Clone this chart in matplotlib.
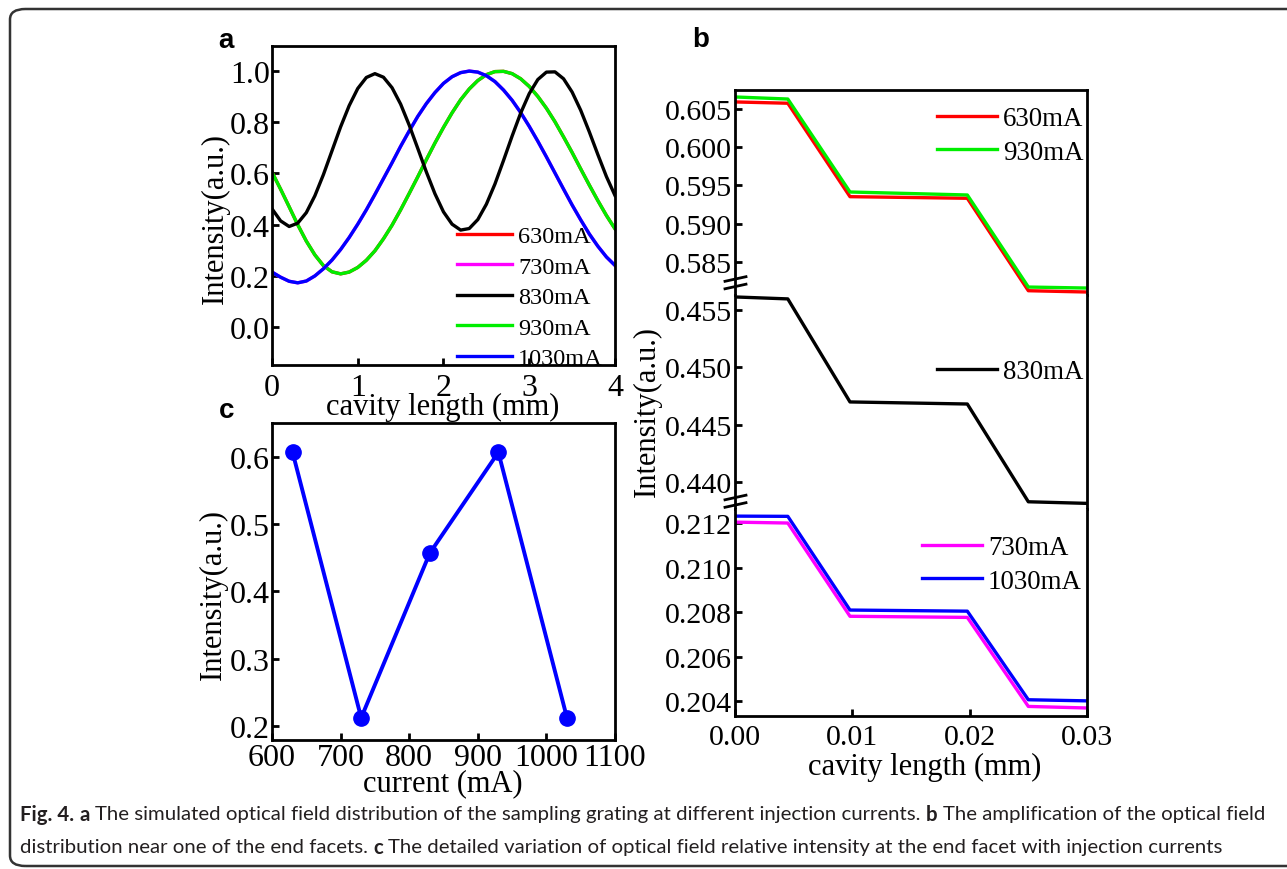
import matplotlib
matplotlib.use('Agg')
import matplotlib.pyplot as plt
from matplotlib import font_manager
from matplotlib.patches import FancyBboxPatch
from matplotlib.lines import Line2D
from matplotlib.ticker import FormatStrFormatter, MultipleLocator

# ---------------- data ----------------
# panel a : field distribution along the cavity
cavity_a = [0.0, 0.1, 0.2, 0.3, 0.4, 0.5, 0.6, 0.7, 0.8, 0.9,
            1.0, 1.1, 1.2, 1.3, 1.4, 1.5, 1.6, 1.7, 1.8, 1.9,
            2.0, 2.1, 2.2, 2.3, 2.4, 2.5, 2.6, 2.7, 2.8, 2.9,
            3.0, 3.1, 3.2, 3.3, 3.4, 3.5, 3.6, 3.7, 3.8, 3.9, 4.0]
a_830 = [0.462, 0.415, 0.393, 0.406, 0.447, 0.513, 0.596, 0.689, 0.782, 0.865,
         0.932, 0.975, 0.990, 0.976, 0.935, 0.871, 0.789, 0.698, 0.606, 0.521,
         0.450, 0.402, 0.379, 0.385, 0.420, 0.480, 0.559, 0.651, 0.746, 0.836,
         0.912, 0.967, 0.996, 0.997, 0.970, 0.918, 0.847, 0.763, 0.674, 0.588, 0.514]
a_930 = [0.605, 0.539, 0.470, 0.400, 0.336, 0.282, 0.240, 0.216, 0.208, 0.215,
         0.233, 0.261, 0.298, 0.345, 0.398, 0.458, 0.522, 0.587, 0.654, 0.719,
         0.780, 0.837, 0.888, 0.930, 0.963, 0.986, 0.998, 0.999, 0.990, 0.970,
         0.940, 0.901, 0.855, 0.802, 0.743, 0.682, 0.618, 0.555, 0.494, 0.436, 0.384]
a_630 = list(a_930)   # coincides with 930 mA (hidden underneath)
a_1030 = [0.215, 0.195, 0.179, 0.173, 0.180, 0.200, 0.228, 0.262, 0.303, 0.350,
          0.402, 0.458, 0.518, 0.580, 0.642, 0.706, 0.766, 0.823, 0.873, 0.916,
          0.952, 0.978, 0.994, 1.000, 0.996, 0.982, 0.959, 0.926, 0.886, 0.838,
          0.784, 0.726, 0.665, 0.602, 0.539, 0.477, 0.419, 0.364, 0.316, 0.274, 0.241]
a_730 = list(a_1030)  # coincides with 1030 mA (hidden underneath)

# panel b : zoom near the end facet
cavity_b = [0.0, 0.0045, 0.0098, 0.0198, 0.025, 0.03]
b_630 = [0.60592, 0.60575, 0.59354, 0.59333, 0.58125, 0.58108]
b_930 = [0.60657, 0.60630, 0.59415, 0.59376, 0.58173, 0.58160]
b_830 = [0.45613, 0.45596, 0.44698, 0.44680, 0.43828, 0.43814]
b_730 = [0.21204, 0.21200, 0.20781, 0.20776, 0.20376, 0.20369]
b_1030 = [0.21231, 0.21230, 0.20809, 0.20804, 0.20406, 0.20401]

# panel c : end-facet intensity vs current
current = [630, 730, 830, 930, 1030]
facet_intensity = [0.607, 0.212, 0.457, 0.607, 0.212]

labels = ['630mA', '730mA', '830mA', '930mA', '1030mA']
colors = {'630mA': '#ff0000', '730mA': '#ff00ff', '830mA': '#000000',
          '930mA': '#00ee00', '1030mA': '#0000ff'}

# ---------------- figure ----------------
W, H = 1287, 870
fig = plt.figure(figsize=(W / 100, H / 100), dpi=100)
fig.patch.set_facecolor('white')

SERIF = 'Liberation Serif'
plt.rcParams['font.family'] = [SERIF, 'DejaVu Serif']


def fx(px):
    return px / W


def fy(py):
    return 1 - py / H


def new_axes(l, t, r, b):
    return fig.add_axes([fx(l), fy(b), fx(r) - fx(l), fy(t) - fy(b)])


def style(ax, pad_x=8, pad_y=1.5, fs=23):
    for s in ax.spines.values():
        s.set_linewidth(2.0)
    ax.tick_params(direction='in', length=5, width=2.0, labelsize=fs,
                   top=False, right=False)
    ax.tick_params(axis='x', pad=pad_x)
    ax.tick_params(axis='y', pad=pad_y)


LW = 2.4
LABEL_FS = 22

# ---- panel a ----
axa = new_axes(272, 47, 615, 366)
handles = {}
for lab, data in [('630mA', a_630), ('930mA', a_930), ('730mA', a_730),
                  ('1030mA', a_1030), ('830mA', a_830)]:
    ln, = axa.plot(cavity_a, data, color=colors[lab], lw=LW)
    handles[lab] = ln
axa.set_xlim(0, 4)
axa.set_ylim(-0.148, 1.098)
axa.xaxis.set_major_locator(MultipleLocator(1))
axa.yaxis.set_major_locator(MultipleLocator(0.2))
axa.yaxis.set_major_formatter(FormatStrFormatter('%.1f'))
style(axa, pad_x=6)
axa.legend([handles[l] for l in labels], labels, loc='upper left',
           bbox_to_anchor=(fx(457), fy(226)), bbox_transform=fig.transFigure,
           frameon=False, prop={'family': SERIF, 'size': 17.5},
           handlelength=2.26, handletextpad=0.25, borderpad=0,
           borderaxespad=0, labelspacing=0.35)
fig.text(fx(443), fy(407), 'cavity length (mm)', ha='center', va='center',
         fontsize=LABEL_FS)
fig.text(fx(215), fy(219), 'Intensity(a.u.)', ha='center', va='center',
         rotation=90, fontsize=LABEL_FS)

# ---- panel c ----
axc = new_axes(272, 424, 615, 741)
axc.plot(current, facet_intensity, color='#0000ff', lw=2.8, marker='o',
         markersize=11, markerfacecolor='#0000ff', markeredgecolor='#0000ff')
axc.set_xlim(600, 1100)
axc.set_ylim(0.179, 0.6506)
axc.xaxis.set_major_locator(MultipleLocator(100))
axc.yaxis.set_major_locator(MultipleLocator(0.1))
axc.yaxis.set_major_formatter(FormatStrFormatter('%.1f'))
style(axc, pad_x=2)
fig.text(fx(443), fy(784), 'current (mA)', ha='center', va='center',
         fontsize=LABEL_FS)
fig.text(fx(213), fy(594), 'Intensity(a.u.)', ha='center', va='center',
         rotation=90, fontsize=LABEL_FS)

# ---- panel b (broken axis) ----
bl, br = 735, 1087
axb1 = new_axes(bl, 91, br, 296)
axb2 = new_axes(bl, 296, br, 510)
axb3 = new_axes(bl, 510, br, 717)

hb = {}
for ax, series in [(axb1, [('630mA', b_630), ('930mA', b_930)]),
                   (axb2, [('830mA', b_830)]),
                   (axb3, [('730mA', b_730), ('1030mA', b_1030)])]:
    for lab, data in series:
        ln, = ax.plot(cavity_b, data, color=colors[lab], lw=LW)
        hb[lab] = ln
    ax.set_xlim(0, 0.03)

axb1.set_ylim(0.58069, 0.60748)
axb2.set_ylim(0.43765, 0.4563)
axb3.set_ylim(0.20333, 0.21263)
axb1.yaxis.set_major_locator(MultipleLocator(0.005))
axb2.yaxis.set_major_locator(MultipleLocator(0.005))
axb3.yaxis.set_major_locator(MultipleLocator(0.002))
for ax in (axb1, axb2, axb3):
    ax.yaxis.set_major_formatter(FormatStrFormatter('%.3f'))
    style(ax, pad_x=6, pad_y=2, fs=21.5)
axb3.xaxis.set_major_locator(MultipleLocator(0.01))
axb3.xaxis.set_major_formatter(FormatStrFormatter('%.2f'))
for ax in (axb1, axb2):
    ax.tick_params(axis='x', bottom=False, labelbottom=False)
    ax.spines['bottom'].set_visible(False)
for ax in (axb2, axb3):
    ax.spines['top'].set_visible(False)

legp = dict(loc='upper left', bbox_transform=fig.transFigure, frameon=False,
            prop={'family': SERIF, 'size': 19.4}, handlelength=2.23,
            handletextpad=0.22, borderpad=0, borderaxespad=0, labelspacing=0.33)
axb1.legend([hb['630mA'], hb['930mA']], ['630mA', '930mA'],
            bbox_to_anchor=(fx(937), fy(107)), **legp)
axb2.legend([hb['830mA']], ['830mA'], bbox_to_anchor=(fx(937), fy(360)), **legp)
axb3.legend([hb['730mA'], hb['1030mA']], ['730mA', '1030mA'],
            bbox_to_anchor=(fx(922), fy(536)), **legp)

fig.text(fx(925), fy(767), 'cavity length (mm)', ha='center', va='center',
         fontsize=LABEL_FS)
fig.text(fx(647), fy(412), 'Intensity(a.u.)', ha='center', va='center',
         rotation=90, fontsize=LABEL_FS)

# break marks on the left spine
for yc in (280, 287.5, 498.5, 506):
    fig.add_artist(Line2D([fx(725), fx(746)], [fy(yc + 2.3), fy(yc - 2.3)],
                          color='black', lw=2.0, transform=fig.transFigure))

# panel letters
for txt, x, y in [('a', 226, 41), ('b', 701, 40), ('c', 227, 411)]:
    fig.text(fx(x), fy(y), txt, ha='center', va='center', fontsize=20,
             fontweight='bold', family='Liberation Sans')

# ---------------- caption ----------------
available = {f.name for f in font_manager.fontManager.ttflist}
cap_font = 'Liberation Sans Narrow' if 'Liberation Sans Narrow' in available else 'Lato'
cap_color = '#231f20'
line1 = [('Fig. 4.', 'bold'), ('a', 'bold'),
         ('The simulated optical field distribution of the sampling grating at different injection currents.', 'normal'),
         ('b', 'bold'), ('The amplification of the optical field', 'normal')]
line2 = [('distribution near one of the end facets.', 'normal'), ('c', 'bold'),
         ('The detailed variation of optical field relative intensity at the end facet with injection currents', 'normal')]

renderer = fig.canvas.get_renderer()


def width_of(s, size, weight):
    t = fig.text(0, 0, s, fontsize=size, family=cap_font, fontweight=weight)
    w = t.get_window_extent(renderer).width
    t.remove()
    return w


target = 1247.0
size = 14.0
total = sum(width_of(s, size, w) for s, w in line1) + 4 * (width_of('x x', size, 'normal') - width_of('xx', size, 'normal'))
size = min(size * target / total, 16.0)
space = width_of('x x', size, 'normal') - width_of('xx', size, 'normal')

for pieces, ypx in [(line1, 815), (line2, 848)]:
    x = 20.0
    for s, w in pieces:
        t = fig.text(fx(x), fy(ypx), s, fontsize=size, family=cap_font,
                     fontweight=w, color=cap_color, ha='left', va='center')
        x += t.get_window_extent(renderer).width + space

# rounded frame (its right side runs past the picture edge)
frame = FancyBboxPatch((fx(10), fy(867)), fx(1310) - fx(10), fy(10) - fy(867),
                       boxstyle='round,pad=0,rounding_size=0.012',
                       transform=fig.transFigure, fill=False,
                       edgecolor='#333333', lw=1.8)
fig.add_artist(frame)

fig.savefig('out.png', dpi=100)
